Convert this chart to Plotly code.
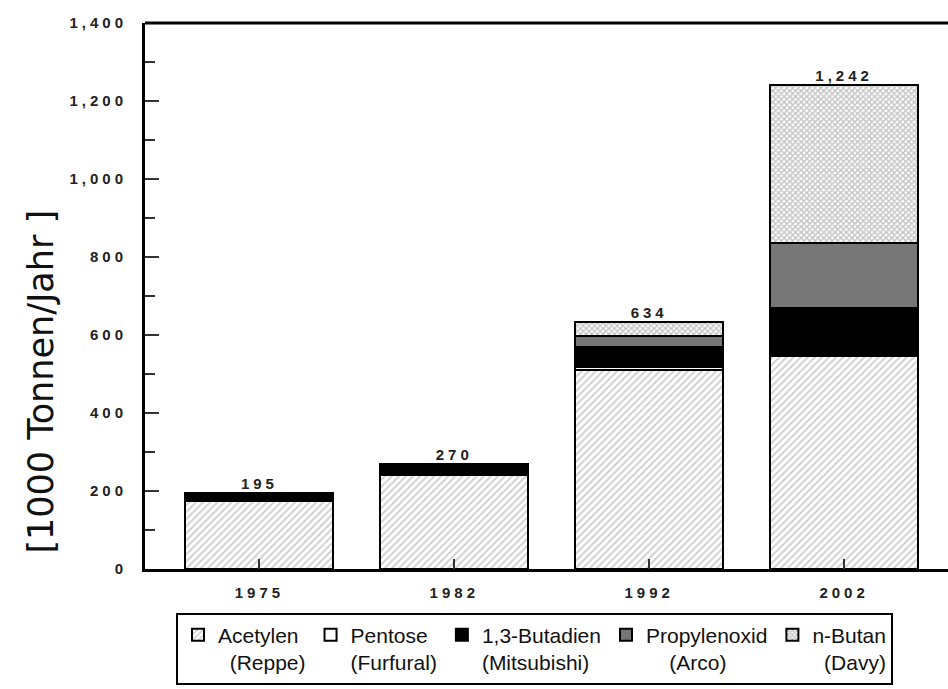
import plotly.graph_objects as go

years = ["1975", "1982", "1992", "2002"]
acetylen = [175, 240, 510, 545]
pentose = [0, 0, 8, 0]
butadien = [20, 30, 50, 124]
propylenoxid = [0, 0, 30, 167]
nbutan = [0, 0, 36, 406]
totals = [195, 270, 634, 1242]
y_ticks = [0, 200, 400, 600, 800, 1000, 1200, 1400]

series = [
    ("Acetylen<br>  (Reppe)", acetylen,
     dict(color="white", pattern=dict(shape="/", fgcolor="#a0a0a0", bgcolor="white", size=5, solidity=0.4, fillmode="overlay"))),
    ("Pentose<br>(Furfural)", pentose, dict(color="white")),
    ("1,3-Butadien<br>(Mitsubishi)", butadien, dict(color="black")),
    ("Propylenoxid<br>    (Arco)", propylenoxid, dict(color="#777777")),
    ("n-Butan<br>  (Davy)", nbutan,
     dict(color="white", pattern=dict(shape="x", fgcolor="#888888", bgcolor="white", size=4, solidity=0.6, fillmode="overlay"))),
]

fig = go.Figure()
for name, vals, mk in series:
    marker = dict(mk)
    marker["line"] = dict(color="black", width=2)
    fig.add_trace(go.Bar(x=years, y=vals, name=name, marker=marker, width=0.76))

fig.add_trace(go.Scatter(
    x=years, y=totals, mode="text",
    text=[f"{t:,}" for t in totals], textposition="top center",
    textfont=dict(family="Liberation Sans", size=15, color="#222222", weight="bold"),
    showlegend=False, hoverinfo="skip", cliponaxis=False,
))

fig.update_layout(
    barmode="stack",
    width=948, height=689,
    margin=dict(l=145, r=0, t=23, b=120, autoexpand=False),
    paper_bgcolor="white", plot_bgcolor="white",
    font=dict(family="Liberation Sans", color="#111111"),
    showlegend=True,
    legend=dict(
        orientation="h", x=0.0386, xanchor="left", y=-0.08, yanchor="top",
        bordercolor="black", borderwidth=2, valign="top",
        font=dict(family="Liberation Sans", size=21, color="#111111"),
        traceorder="normal", itemwidth=30, tracegroupgap=0,
    ),
)

fig.update_xaxes(
    type="category", range=[-0.587, 3.533],
    showline=True, linecolor="black", linewidth=3, mirror=False,
    ticks="inside", ticklen=10, tickcolor="#333333", tickwidth=1.5,
    tickfont=dict(family="Liberation Sans", size=15, color="#222222", weight="bold"),
    ticklabelstandoff=8, showgrid=False,
)
fig.update_yaxes(
    range=[0, 1400], tickvals=y_ticks, tickformat=",d",
    showline=True, linecolor="black", linewidth=3,
    ticks="inside", ticklen=14, tickcolor="#333333", tickwidth=1.5,
    minor=dict(ticks="inside", ticklen=10, tickcolor="#333333", tickwidth=1.5, dtick=100),
    tickfont=dict(family="Liberation Sans", size=15, color="#222222", weight="bold"),
    ticklabelstandoff=12, showgrid=False, zeroline=False,
)

# top border line
fig.add_shape(type="line", xref="paper", yref="paper", x0=0, x1=1, y0=1, y1=1,
              line=dict(color="black", width=3))

fig.add_annotation(
    text="[1000 Tonnen/Jahr ]", xref="paper", yref="paper",
    x=-0.13, y=0.3425, xanchor="center", yanchor="middle",
    textangle=-90, showarrow=False,
    font=dict(family="DejaVu Sans", size=35, color="#111111"),
)

post = """
document.body.style.margin = '0';
document.body.style.overflow = 'hidden';
var s = document.createElement('style');
s.textContent = '.xtick text, .ytick text, .scatterlayer .textpoint text { letter-spacing: 4px; }';
document.head.appendChild(s);
"""
fig.write_html("out.html", post_script=post, config={"displayModeBar": False})
